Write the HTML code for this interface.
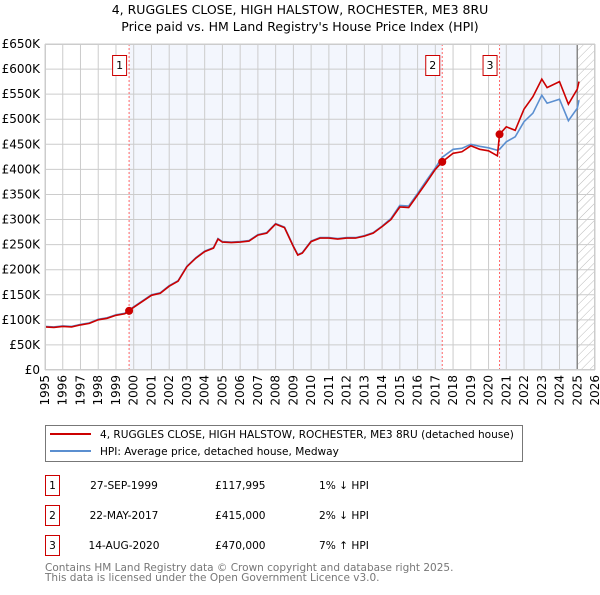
<!DOCTYPE html>
<html><head><meta charset="utf-8"><style>
body{margin:0;background:#fff;width:600px;height:590px;overflow:hidden}
text{font-family:"DejaVu Sans","Liberation Sans",sans-serif}
</style></head><body>
<svg id="chart" width="600" height="590" xmlns="http://www.w3.org/2000/svg">
<defs><pattern id="hatch" width="6" height="6" patternUnits="userSpaceOnUse" patternTransform="rotate(45)"><line x1="0" y1="0" x2="0" y2="6" stroke="#bbb" stroke-width="1"/></pattern></defs>
<text x="300" y="14" text-anchor="middle" font-size="12.5">4, RUGGLES CLOSE, HIGH HALSTOW, ROCHESTER, ME3 8RU</text>
<text x="300" y="31" text-anchor="middle" font-size="12.5">Price paid vs. HM Land Registry's House Price Index (HPI)</text>
<g id="plot"></g>
<g>
<rect x="45.5" y="425.5" width="477" height="36" fill="#fff" stroke="#777"/>
<line x1="50" y1="434" x2="91" y2="434" stroke="#cc0000" stroke-width="2"/>
<text x="100" y="438" font-size="10.55">4, RUGGLES CLOSE, HIGH HALSTOW, ROCHESTER, ME3 8RU (detached house)</text>
<line x1="50" y1="451" x2="91" y2="451" stroke="#5b8fd0" stroke-width="2"/>
<text x="100" y="455" font-size="10.55">HPI: Average price, detached house, Medway</text>
</g>
<g font-size="10.6">
<rect x="45.5" y="475.5" width="14" height="20" fill="#fff" stroke="#cc0000"/><text x="52.5" y="489" text-anchor="middle">1</text>
<text x="124" y="489" text-anchor="middle">27-SEP-1999</text><text x="215" y="489">£117,995</text><text x="319" y="489">1% ↓ HPI</text>
<rect x="45.5" y="505.5" width="14" height="20" fill="#fff" stroke="#cc0000"/><text x="52.5" y="519" text-anchor="middle">2</text>
<text x="124" y="519" text-anchor="middle">22-MAY-2017</text><text x="215" y="519">£415,000</text><text x="319" y="519">2% ↓ HPI</text>
<rect x="45.5" y="535.5" width="14" height="20" fill="#fff" stroke="#cc0000"/><text x="52.5" y="549" text-anchor="middle">3</text>
<text x="124" y="549" text-anchor="middle">14-AUG-2020</text><text x="215" y="549">£470,000</text><text x="319" y="549">7% ↑ HPI</text>
</g>
<text x="45" y="571" font-size="10.5" fill="#777">Contains HM Land Registry data © Crown copyright and database right 2025.</text>
<text x="45" y="581" font-size="10.5" fill="#777">This data is licensed under the Open Government Licence v3.0.</text>
</svg>
<script>
const years=[1995,1995.5,1996,1996.5,1997,1997.5,1998,1998.5,1999,1999.5,1999.74,2000,2000.5,2001,2001.5,2002,2002.5,2003,2003.5,2004,2004.5,2004.75,2005,2005.5,2006,2006.5,2007,2007.5,2008,2008.5,2009,2009.25,2009.5,2010,2010.5,2011,2011.5,2012,2012.5,2013,2013.5,2014,2014.5,2015,2015.5,2016,2016.5,2017,2017.39,2018,2018.5,2019,2019.5,2020,2020.5,2020.62,2021,2021.5,2022,2022.5,2023,2023.3,2024,2024.5,2025,2025.1];
const hpi=[87,86,88,87,91,94,101,104,110,113,120,126,138,150,154,168,178,207,224,237,244,262,256,255,256,258,270,274,292,285,247,230,234,257,264,264,262,264,264,268,274,287,302,328,327,352,378,403,424,440,442,450,446,443,438,440,455,465,495,512,548,532,540,497,522,538];
const red=[86,85,87,86,90,93,100,103,109,112,118,125,137,149,153,167,177,206,223,236,243,261,255,254,255,257,269,273,291,284,246,229,233,256,263,263,261,263,263,267,273,286,300,325,324,349,374,400,415,432,435,447,440,437,427,470,485,478,520,545,580,563,575,530,560,575];
const saleYears=[1999.74,2017.39,2020.62];
const saleValues=[117.995,415,470];
const yTicks=[0,50,100,150,200,250,300,350,400,450,500,550,600,650];
const xTicks=[1995,1996,1997,1998,1999,2000,2001,2002,2003,2004,2005,2006,2007,2008,2009,2010,2011,2012,2013,2014,2015,2016,2017,2018,2019,2020,2021,2022,2023,2024,2025,2026];
const X0=45,X1=595,Y0=370,Y1=44;
const xs=y=>X0+(y-1995)/(2026-1995)*(X1-X0);
const ys=v=>Y0-v/650*(Y0-Y1);
const NS="http://www.w3.org/2000/svg";
const g=document.getElementById('plot');
function mk(t,a){const e=document.createElementNS(NS,t);for(const k in a)e.setAttribute(k,a[k]);g.appendChild(e);return e;}
let e;
e=mk('rect',{x:X0,y:Y1,width:X1-X0,height:Y0-Y1,fill:'#fff'});


e=mk('rect',{x:xs(saleYears[0]),y:Y1,width:xs(saleYears[1])-xs(saleYears[0]),height:Y0-Y1,fill:'#f3f6fd'});


e=mk('rect',{x:xs(saleYears[2]),y:Y1,width:xs(2025)-xs(saleYears[2]),height:Y0-Y1,fill:'#f3f6fd'});


e=mk('rect',{x:xs(2025),y:Y1,width:X1-xs(2025),height:Y0-Y1,fill:'url(#hatch)'});


yTicks.forEach(v=>{
 e=mk('line',{x1:X0,x2:X1,y1:ys(v),y2:ys(v),stroke:'#ccc'});
 
 
 e=mk('text',{x:X0-5,y:ys(v)+4,'text-anchor':'end','font-size':'12'});
 e.textContent=v===0?'£0':'£'+v+'K';
 
 
});
xTicks.forEach(y=>{
 e=mk('line',{x1:xs(y),x2:xs(y),y1:Y1,y2:Y0,stroke:'#ccc'});
 
 
 e=mk('text',{x:0,y:0,'text-anchor':'end','font-size':'12',transform:`translate(${xs(y)+4},${Y0+5}) rotate(-90)`});
 e.textContent=y;
 
 
});
e=mk('line',{x1:xs(2025),x2:xs(2025),y1:Y1,y2:Y0,stroke:'#888','stroke-width':1.5});


saleYears.forEach((y,i)=>{
 e=mk('line',{x1:xs(y),x2:xs(y),y1:Y1,y2:Y0,stroke:'#f66','stroke-dasharray':'2,2'});
 
 
 e=mk('rect',{x:xs(y)-16.5,y:55.5,width:14,height:20,fill:'#fff',stroke:'#cc0000'});
 
 
 e=mk('text',{x:xs(y)-9.5,y:69,'text-anchor':'middle','font-size':'11'});
 e.textContent=String(i+1);
 
 
});
const path=arr=>arr.map((v,i)=>(i?'L':'M')+xs(years[i]).toFixed(1)+','+ys(v).toFixed(1)).join('');
e=mk('path',{d:path(hpi),fill:'none',stroke:'#5b8fd0','stroke-width':1.6});


e=mk('path',{d:path(red),fill:'none',stroke:'#cc0000','stroke-width':1.6});


saleYears.forEach((y,i)=>{
 e=mk('circle',{cx:xs(y),cy:ys(saleValues[i]),r:4,fill:'#cc0000'});
 
 
});
e=mk('rect',{x:X0+.5,y:Y1+.5,width:X1-X0-1,height:Y0-Y1-1,fill:'none',stroke:'#ccc'});


</script>
</body></html>
